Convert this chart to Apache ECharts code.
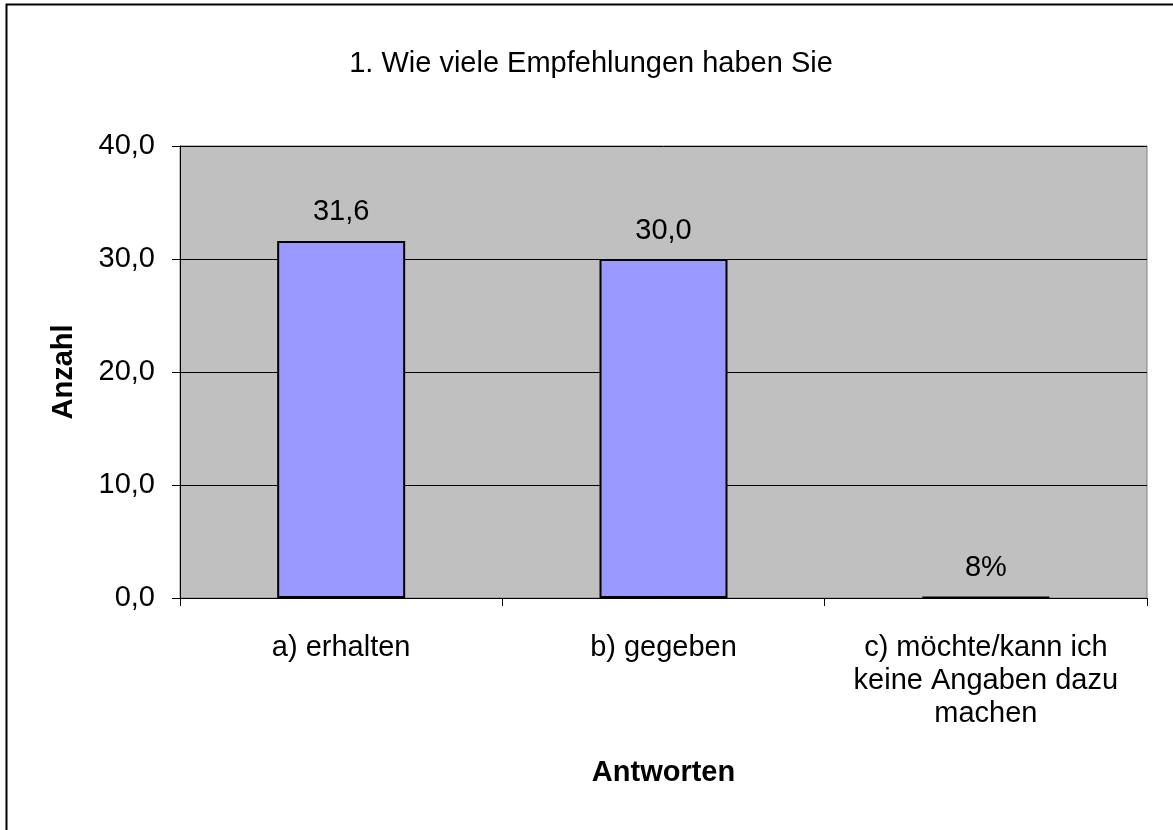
<!DOCTYPE html>
<html>
<head>
<meta charset="utf-8">
<script src="https://cdn.jsdelivr.net/npm/echarts@6/dist/echarts.min.js"></script>
<style>html,body{margin:0;padding:0;background:#fff;}#c{width:1173px;height:830px;}</style>
</head>
<body>
<div id="c"></div>
<script>
const categories = ['a) erhalten', 'b) gegeben', 'c) möchte/kann ich\nkeine Angaben dazu\nmachen'];
const values = [31.6, 30.0, 0.08];
const valueLabels = ['31,6', '30,0', '8%'];
const yTicks = [0, 10, 20, 30, 40];

const chart = echarts.init(document.getElementById('c'));
const font = 'Liberation Sans, Arial, sans-serif';
const fs = 29;
chart.setOption({
  animation: false,
  backgroundColor: '#fff',
  title: {
    text: '1. Wie viele Empfehlungen haben Sie',
    left: 586, top: 44, textAlign: 'center',
    textStyle: {fontFamily: font, fontSize: fs, fontWeight: 'normal', color: '#000'}
  },
  graphic: [{
    type: 'rect', shape: {x: 6.5, y: 4.5, width: 1200, height: 900},
    style: {fill: null, stroke: '#000', lineWidth: 2}, silent: true
  }],
  grid: {
    left: 180, top: 146, width: 967, height: 452,
    show: true, backgroundColor: '#C0C0C0', borderColor: '#808080', borderWidth: 1
  },
  xAxis: {
    type: 'category', data: categories,
    name: 'Antworten', nameLocation: 'middle', nameGap: 160,
    nameTextStyle: {fontFamily: font, fontSize: fs, fontWeight: 'bold', color: '#000'},
    axisLine: {lineStyle: {color: '#000', width: 1}},
    axisTick: {show: true, length: 8, alignWithLabel: false, lineStyle: {color: '#000'}},
    axisLabel: {interval: 0, hideOverlap: false, fontFamily: font, fontSize: fs, color: '#000', margin: 33, lineHeight: 33}
  },
  yAxis: {
    type: 'value', min: 0, max: 40, interval: 10,
    name: 'Anzahl', nameLocation: 'middle', nameGap: 102, nameRotate: 90,
    nameTextStyle: {fontFamily: font, fontSize: fs, fontWeight: 'bold', color: '#000'},
    axisLine: {show: true, lineStyle: {color: '#000', width: 1}},
    axisTick: {show: true, length: 8, lineStyle: {color: '#000'}},
    splitLine: {show: true, lineStyle: {color: '#000', width: 1}},
    axisLabel: {fontFamily: font, fontSize: fs, color: '#000', margin: 25,
      formatter: v => yTicks.includes(v) ? v.toFixed(1).replace('.', ',') : ''}
  },
  series: [{
    type: 'bar', data: values, barWidth: 128,
    itemStyle: {color: '#9999FF', borderColor: '#000', borderWidth: 2},
    label: {show: true, position: 'top', distance: 14, fontFamily: font, fontSize: fs, color: '#000',
      formatter: p => valueLabels[p.dataIndex]}
  }]
});
</script>
</body>
</html>
